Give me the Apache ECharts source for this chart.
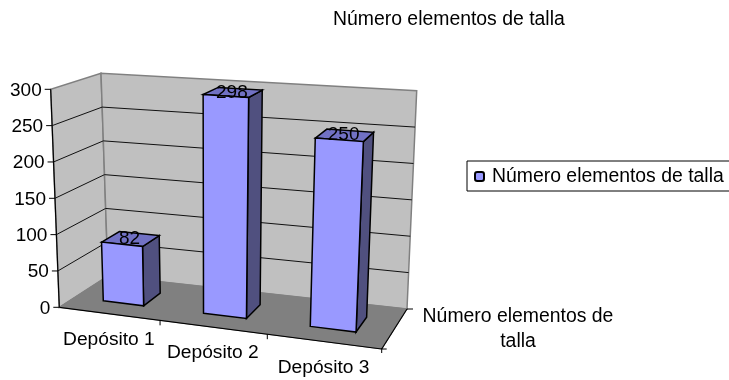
<!DOCTYPE html>
<html lang="es">
<head>
<meta charset="UTF-8">
<title>Número elementos de talla</title>
<style>
  * { margin: 0; padding: 0; }
  html, body { width: 100%; height: 100%; background: #fff; overflow: hidden; }
  #chart { width: 729px; height: 380px; }
</style>
</head>
<body>
<div id="chart"></div>
<script src="https://cdn.jsdelivr.net/npm/echarts@6/dist/echarts.min.js"></script>
<script>
var chartTitle = 'Número elementos de talla';
var seriesName = 'Número elementos de talla';
var depthName = 'Número elementos de\ntalla';
var categories = ['Depósito 1', 'Depósito 2', 'Depósito 3'];
var values = [82, 298, 250];
var yTicks = [0, 50, 100, 150, 200, 250, 300];

var fontName = '"Liberation Sans", Arial, sans-serif';

// corners of the 3d box: f/b front/back, l/r left/right, b/t bottom/top
var box = {
    flb: [59.3, 307.3], flt: [50.7, 89.3],
    blb: [108, 276], blt: [101, 73.3],
    frb: [381.7, 349], frt: [393, 113],
    brb: [407, 309], brt: [416.7, 90.7]
};
var perspective = 1.1; // categories get wider towards the right

function mix(a, b, t) {
    return [a[0] + (b[0] - a[0]) * t, a[1] + (b[1] - a[1]) * t];
}

// u: along categories, v: height, w: depth, all 0..1
function project(u, v, w) {
    var k = u / (u + perspective * (1 - u));
    var fb = mix(box.flb, box.frb, k);
    var ft = mix(box.flt, box.frt, k);
    var bb = mix(box.blb, box.brb, k);
    var bt = mix(box.blt, box.brt, k);
    return mix(mix(fb, ft, v), mix(bb, bt, v), w);
}

function poly(points, fill, stroke, width) {
    return {
        type: 'polygon',
        shape: { points: points },
        style: { fill: fill, stroke: stroke, lineWidth: width }
    };
}

function line(a, b, color, width) {
    return {
        type: 'line',
        shape: { x1: a[0], y1: a[1], x2: b[0], y2: b[1] },
        style: { stroke: color, lineWidth: width, fill: null }
    };
}

function label(text, x, y, align, size) {
    return {
        type: 'text',
        style: {
            text: text, x: x, y: y, align: align, verticalAlign: 'middle',
            fill: '#000', font: size + 'px ' + fontName
        }
    };
}

function renderFrame() {
    var edge = '#808080';
    return {
        type: 'group',
        children: [
            poly([box.flb, box.flt, box.blt, box.blb], '#c0c0c0', edge, 1.5),
            poly([box.blb, box.blt, box.brt, box.brb], '#c0c0c0', edge, 1.5),
            poly([box.flb, box.blb, box.brb, box.frb], '#808080', edge, 1),
            line(box.flb, box.flt, '#000', 1.2),
            line(box.flb, box.frb, '#000', 1.2),
            line(box.frb, box.brb, '#000', 1.2),
            line(box.frb, [box.frb[0] + 5, box.frb[1]], '#000', 1),
            line([box.frb[0], box.frb[1] - 1], [box.frb[0], box.frb[1] + 4], '#000', 1),
            line(box.brb, [box.brb[0] + 6, box.brb[1]], '#000', 1)
        ]
    };
}

function renderTick(params, api) {
    var cs = params.coordSys;
    var v = (cs.y + cs.height - api.coord([0, api.value(0)])[1]) / cs.height;
    var a = project(0, v, 0), b = project(0, v, 1), c = project(1, v, 1);
    var kids = [label(String(api.value(0)), a[0] - 9, a[1] + 1, 'right', 19),
        line([a[0] - 6, a[1]], a, '#000', 1)];
    if (v > 0 && v < 1) {
        kids.push(line(a, b, '#111', 1), line(b, c, '#111', 1));
    }
    return { type: 'group', children: kids };
}

function renderCategory(params, api) {
    var cs = params.coordSys;
    var mid = api.coord([api.value(0), 0])[0];
    var step = api.size([1, 0])[0];
    var m = project((mid - cs.x) / cs.width, 0, 0);
    var t = project((mid + step / 2 - cs.x) / cs.width, 0, 0);
    var kids = [label(categories[api.value(0)], m[0], m[1] + 26, 'center', 19.2)];
    if (api.value(0) < categories.length - 1) {
        kids.push(line(t, [t[0], t[1] + 5], '#000', 1));
    }
    return { type: 'group', children: kids };
}

function renderBar(params, api) {
    var cs = params.coordSys;
    var top = api.coord([api.value(0), api.value(1)]);
    var half = api.size([1, 0])[0] * 0.205;
    var ul = (top[0] - half - cs.x) / cs.width;
    var ur = (top[0] + half - cs.x) / cs.width;
    var v = (cs.y + cs.height - top[1]) / cs.height;
    var wf = 0.32, wb = 0.7;
    var lbl = project((ul + ur) / 2, v, (wf + wb) / 2);
    return {
        type: 'group',
        children: [
            poly([project(ur, 0, wf), project(ur, 0, wb), project(ur, v, wb), project(ur, v, wf)], '#50507f', '#000', 1.5),
            poly([project(ul, v, wf), project(ur, v, wf), project(ur, v, wb), project(ul, v, wb)], '#7171c4', '#000', 1.5),
            poly([project(ul, 0, wf), project(ur, 0, wf), project(ur, v, wf), project(ul, v, wf)], '#9999ff', '#000', 1.5),
            label(String(api.value(1)), lbl[0] - 1, lbl[1], 'center', 19)
        ]
    };
}

var chart = echarts.init(document.getElementById('chart'));
chart.setOption({
    animation: false,
    backgroundColor: '#fff',
    title: [{
        text: chartTitle, left: 333, top: 10, padding: 0,
        textStyle: { fontFamily: fontName, fontSize: 19.4, fontWeight: 'normal', color: '#000' }
    }, {
        text: depthName, left: 518, top: 304, padding: 0, textAlign: 'center',
        textStyle: { fontFamily: fontName, fontSize: 19.4, fontWeight: 'normal', color: '#000', lineHeight: 25 }
    }],
    legend: {
        left: 467, top: 161, orient: 'vertical', padding: [6, 12, 5, 7],
        borderColor: '#000', borderWidth: 1,
        itemWidth: 9, itemHeight: 9, itemGap: 0,
        data: [seriesName],
        textStyle: { fontFamily: fontName, fontSize: 19.4, color: '#000', padding: [1, 0, 0, 3] }
    },
    grid: { left: 60, top: 89, width: 320, height: 218 },
    xAxis: { type: 'category', data: categories, show: false },
    yAxis: { type: 'value', min: 0, max: 300, interval: 50, show: false },
    series: [
        { type: 'custom', name: 'frame', silent: true, renderItem: renderFrame, data: [[0]], z: 1 },
        { type: 'custom', name: 'ticks', silent: true, renderItem: renderTick, data: yTicks.map(function (t) { return [t]; }), encode: { y: 0 }, z: 2 },
        { type: 'custom', name: 'labels', silent: true, renderItem: renderCategory, data: categories.map(function (c, i) { return [i]; }), encode: { x: 0 }, z: 2 },
        {
            type: 'custom', name: seriesName, renderItem: renderBar, z: 3,
            itemStyle: { color: '#9999ff', borderColor: '#000', borderWidth: 1 },
            encode: { x: 0, y: 1 },
            data: values.map(function (val, i) { return [i, val]; })
        }
    ]
});
</script>
</body>
</html>
